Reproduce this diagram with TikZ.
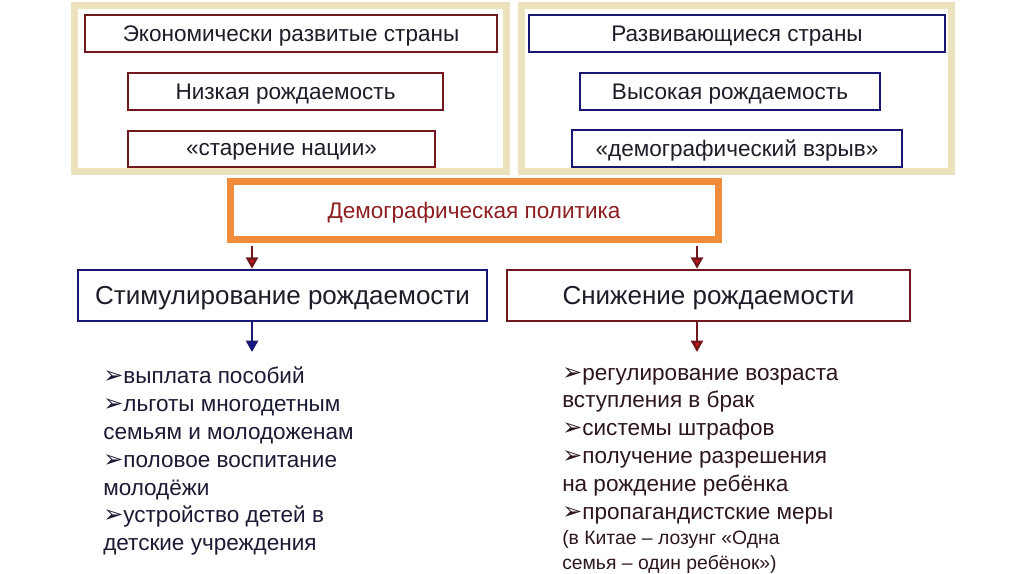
\documentclass[tikz,border=0pt]{standalone}
\usepackage{fontspec}
\setmainfont{Liberation Sans}
\newfontfamily\symfont{DejaVu Sans}
\usetikzlibrary{arrows.meta}

\definecolor{panelbeige}{RGB}{236,227,190}
\definecolor{richred}{RGB}{112,24,30}
\definecolor{navyblue}{RGB}{24,24,116}
\definecolor{policyorange}{RGB}{240,140,58}
\definecolor{darktext}{RGB}{30,28,40}
\definecolor{policytext}{RGB}{140,30,34}
\definecolor{tipred}{RGB}{220,20,20}
\definecolor{tipblue}{RGB}{16,16,170}

\newcommand{\mybullet}{{\symfont\fontsize{18}{18}\selectfont ➢}}

\tikzset{
  panel/.style={draw=panelbeige, line width=5.25pt, fill=white, inner sep=0pt},
  topbox/.style={line width=1.9pt, inner sep=0pt, fill=white, text=darktext,
    text depth=0pt, font=\fontsize{16.9}{20}\selectfont},
  redbox/.style={topbox, draw=richred},
  bluebox/.style={topbox, draw=navyblue},
  waybox/.style={line width=1.9pt, inner sep=0pt, text=darktext, text depth=0pt,
    minimum width=306.75pt, minimum height=38.25pt,
    font=\fontsize{19.5}{22}\selectfont},
  listtext/.style={anchor=north west, inner sep=0pt, align=left,
    font=\fontsize{16.9}{20.85}\selectfont},
  redarrow/.style={draw=richred, line width=1.8pt,
    -{Triangle[width=9pt, length=8.5pt, fill=tipred]}},
  bluearrow/.style={draw=navyblue, line width=1.8pt,
    -{Triangle[width=9pt, length=8.5pt, fill=tipblue]}}
}

\begin{document}
\begin{tikzpicture}[x=0.75pt, y=-0.75pt]
  \useasboundingbox (0,0) rectangle (1024,574);

  % two country panels
  \node (devpanel) at (290,89) [panel, minimum width=324pt, minimum height=124.5pt] {};
  \node (growpanel) at (736,89) [panel, minimum width=322.5pt, minimum height=124.5pt] {};

  \node (rich) at (291,33.5) [redbox, minimum width=309pt, minimum height=27.75pt] {Экономически развитые страны};
  \node (lowbirth) at (285.5,91.5) [redbox, minimum width=236.25pt, minimum height=27.75pt] {Низкая рождаемость};
  \node (aging) at (281.5,149) [redbox, minimum width=230.25pt, minimum height=27pt] {«старение нации»};

  \node (poor) at (737,33.5) [bluebox, minimum width=312pt, minimum height=27.75pt] {Развивающиеся страны};
  \node (highbirth) at (730,91.5) [bluebox, minimum width=225pt, minimum height=27.75pt] {Высокая рождаемость};
  \node (boom) at (737,148.5) [bluebox, minimum width=247.5pt, minimum height=27.75pt] {«демографический взрыв»};

  % policy and its two ways
  \node (policy) at (474,210.5) [draw=policyorange, line width=5.25pt, inner sep=0pt,
    minimum width=366pt, minimum height=42.75pt, text=policytext, text depth=0pt,
    font=\fontsize{16.9}{20}\selectfont] {Демографическая политика};

  \node (stim) at (282.5,295.5) [waybox, draw=navyblue] {Стимулирование рождаемости};
  \node (reduce) at (708.5,295.5) [waybox, draw=richred, minimum width=302.25pt] {Снижение рождаемости};

  \coordinate (leftx) at (252,0);
  \coordinate (rightx) at (697,0);
  \coordinate (stimend) at (252,352);
  \coordinate (reduceend) at (697,352);

  \draw[redarrow, shorten <=2.6pt] (policy.south -| leftx) -- (stim.north -| leftx);
  \draw[redarrow, shorten <=2.6pt] (policy.south -| rightx) -- (reduce.north -| rightx);
  \draw[bluearrow] (stim.south -| leftx) -- (stimend);
  \draw[redarrow] (reduce.south -| rightx) -- (reduceend);

  % measures
  \node (stimlist) at (103,367) [listtext, text={rgb,255:red,26;green,26;blue,52}]
    {\mybullet выплата пособий\\
     \mybullet льготы многодетным\\
     семьям и молодоженам\\
     \mybullet половое воспитание\\
     молодёжи\\
     \mybullet устройство детей в\\
     детские учреждения};

  \node (reducelist) at (562,367) [listtext, text={rgb,255:red,44;green,22;blue,26}]
    {\mybullet регулирование возраста\\
     вступления в брак\\
     \mybullet системы штрафов\\
     \mybullet получение разрешения\\
     на рождение ребёнка\\
     \mybullet пропагандистские меры\\[-2pt]
     {\fontsize{14.5}{18.75}\selectfont (в Китае – лозунг «Одна}\\[-2pt]
     {\fontsize{14.5}{18.75}\selectfont семья – один ребёнок»)}};
\end{tikzpicture}
\end{document}
